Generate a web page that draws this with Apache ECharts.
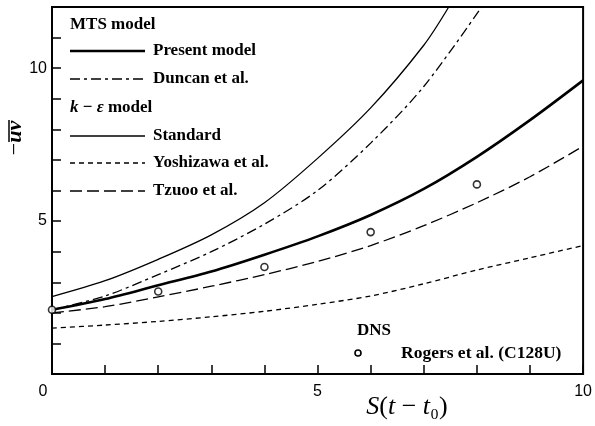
<!DOCTYPE html>
<html>
<head>
<meta charset="utf-8">
<script src="https://cdn.jsdelivr.net/npm/echarts@6/dist/echarts.min.js"></script>
<style>
html,body{margin:0;padding:0;background:#fff;}
#chart{width:595px;height:426px;}
</style>
</head>
<body>
<div id="chart"></div>
<script>
// ---- data ----
const sGrid = [0, 1, 2, 3, 4, 5, 6, 7, 8, 9, 10];
const presentModel = [2.1, 2.45, 2.9, 3.35, 3.9, 4.5, 5.2, 6.05, 7.1, 8.3, 9.6];
const tzuoo = [2.0, 2.2, 2.52, 2.87, 3.25, 3.68, 4.2, 4.85, 5.6, 6.45, 7.45];
const yoshizawa = [1.5, 1.6, 1.72, 1.87, 2.05, 2.28, 2.55, 2.95, 3.4, 3.8, 4.2];
const standardS = [0, 1, 2, 3, 4, 5, 6, 7, 7.47];
const standard = [2.53, 3.05, 3.75, 4.55, 5.6, 7.05, 8.7, 10.75, 12];
const duncanS = [0, 1, 2, 3, 4, 5, 6, 7, 8.09];
const duncan = [2.1, 2.55, 3.25, 4.0, 4.9, 6.0, 7.55, 9.4, 12];
const dnsS = [0, 2, 4, 6, 8];
const dns = [2.1, 2.7, 3.5, 4.64, 6.2];
const xTickLabels = {0: '0', 5: '5', 10: '10'};
const yTickLabels = {5: '5', 10: '10'};

const pairs = (xs, ys) => xs.map((x, i) => [x, ys[i]]);
const chart = echarts.init(document.getElementById('chart'), null, {renderer: 'canvas'});

const serif = '"Liberation Serif", "Times New Roman", serif';
const legendFont = 'bold 17px ' + serif;
const lx1 = 70, lx2 = 145, ltx = 153;

function legLine(y, w, dash) {
  return {type: 'line', shape: {x1: lx1, y1: y, x2: lx2, y2: y},
    style: {stroke: '#000', lineWidth: w, lineDash: dash || null}};
}
function legText(x, y, t, size) {
  return {type: 'text', x: x, y: y,
    style: {text: t, font: 'bold ' + (size || 17) + 'px ' + serif, fill: '#000', verticalAlign: 'middle'}};
}
function curve(name, xs, ys, lineStyle) {
  return {name: name, type: 'line', smooth: 0.3, showSymbol: false,
    data: pairs(xs, ys), lineStyle: Object.assign({color: '#000'}, lineStyle)};
}

const option = {
  animation: false,
  backgroundColor: '#fff',
  grid: {left: 52, right: 10, top: 7, bottom: 52, show: true, borderColor: '#000', borderWidth: 2},
  xAxis: {
    type: 'value', min: 0, max: 10, interval: 1,
    axisLine: {lineStyle: {color: '#000', width: 2}},
    axisTick: {inside: true, length: 9, lineStyle: {color: '#000', width: 1.5}},
    splitLine: {show: false},
    axisLabel: {
      color: '#000', fontSize: 16, fontFamily: '"Liberation Sans", Arial, sans-serif', margin: 10,
      formatter: v => v === 0 ? '{z|0}' : (xTickLabels[v] || ''),
      rich: {z: {fontSize: 16, fontFamily: '"Liberation Sans", Arial, sans-serif', color: '#000', padding: [0, 18, 0, 0]}}
    }
  },
  yAxis: {
    type: 'value', min: 0, max: 12, interval: 1,
    axisLine: {lineStyle: {color: '#000', width: 2}},
    axisTick: {inside: true, length: 9, lineStyle: {color: '#000', width: 1.5}},
    splitLine: {show: false},
    axisLabel: {
      color: '#000', fontSize: 16, fontFamily: '"Liberation Sans", Arial, sans-serif', margin: 5,
      formatter: v => yTickLabels[v] || ''
    }
  },
  series: [
    curve('Present model', sGrid, presentModel, {width: 2.6}),
    curve('Duncan et al.', duncanS, duncan, {width: 1.3, type: [10, 4, 3, 4]}),
    curve('Standard', standardS, standard, {width: 1.3}),
    curve('Yoshizawa et al.', sGrid, yoshizawa, {width: 1.3, type: [5, 4]}),
    curve('Tzuoo et al.', sGrid, tzuoo, {width: 1.3, type: [12, 5]}),
    {name: 'Rogers et al. (C128U)', type: 'scatter', symbol: 'circle', symbolSize: 7, data: pairs(dnsS, dns),
      itemStyle: {color: '#fff', borderColor: '#000', borderWidth: 1.6}, z: 5}
  ],
  graphic: [
    legText(lx1, 25, 'MTS model'),
    legLine(51, 2.6), legText(ltx, 51, 'Present model'),
    legLine(79, 1.3, [10, 4, 3, 4]), legText(ltx, 79, 'Duncan et al.'),
    {type: 'text', x: lx1, y: 108, style: {
      text: '{i|k} − {i|ε} model', font: legendFont, fill: '#000', verticalAlign: 'middle',
      rich: {i: {fontFamily: serif, fontStyle: 'italic', fontWeight: 'bold', fontSize: 17}}}},
    legLine(136, 1.3), legText(ltx, 136, 'Standard'),
    legLine(163, 1.3, [5, 4]), legText(ltx, 163, 'Yoshizawa et al.'),
    legLine(191, 1.3, [12, 5]), legText(ltx, 191, 'Tzuoo et al.'),
    legText(357, 331, 'DNS'),
    {type: 'circle', shape: {cx: 358, cy: 353, r: 3}, style: {fill: '#fff', stroke: '#000', lineWidth: 1.6}},
    legText(401, 353, 'Rogers et al. (C128U)', 17.5),
    // x axis title
    {type: 'text', x: 407, y: 407, style: {
      text: '{i|S}{r|(}{i|t}{r| − }{i|t}{s|₀}{r|)}', align: 'center', verticalAlign: 'middle', fill: '#000',
      rich: {
        i: {fontFamily: serif, fontStyle: 'italic', fontSize: 26},
        r: {fontFamily: serif, fontSize: 26},
        s: {fontFamily: serif, fontSize: 26}
      }}},
    // y axis title (rotated), overline drawn as a line
    {type: 'group', x: 15, y: 138, rotation: Math.PI / 2, children: [
      {type: 'text', x: 0, y: 0, style: {
        text: '{r|−}{i|uv}', align: 'center', verticalAlign: 'middle', fill: '#000',
        rich: {
          i: {fontFamily: serif, fontStyle: 'italic', fontSize: 22, fontWeight: 'bold'},
          r: {fontFamily: serif, fontSize: 22}
        }}},
      {type: 'line', shape: {x1: -4, y1: -6, x2: 18, y2: -6}, style: {stroke: '#000', lineWidth: 1.5}}
    ]}
  ]
};
chart.setOption(option);
</script>
</body>
</html>
